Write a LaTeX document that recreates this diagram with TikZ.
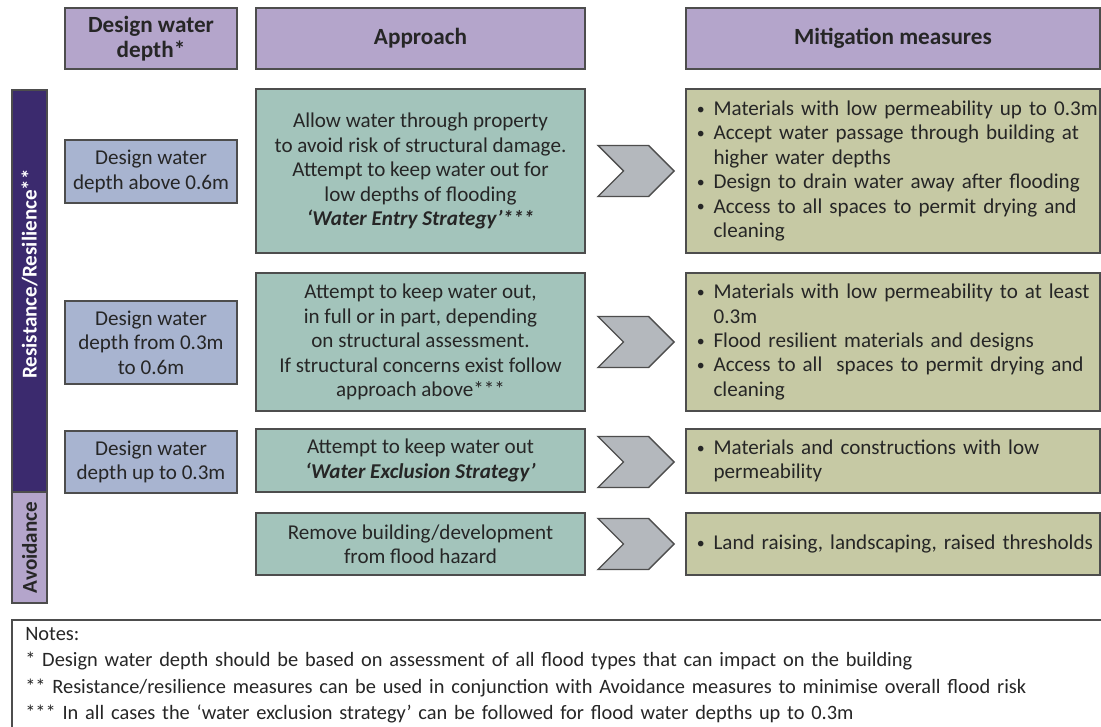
\documentclass[tikz,border=0pt]{standalone}
\usepackage{fontspec}
\setmainfont{Carlito}
\usetikzlibrary{positioning,shapes.symbols}
\definecolor{hdpurple}{HTML}{B4A5CB}
\definecolor{sidepurple}{HTML}{3B2A6E}
\definecolor{depblue}{HTML}{A8B4D0}
\definecolor{apgreen}{HTML}{A3C4BB}
\definecolor{mitolive}{HTML}{C6C9A4}
\definecolor{chevgrey}{HTML}{B4B8BD}
\definecolor{edgegrey}{HTML}{4D4D4D}
\definecolor{txt}{HTML}{262626}
\hyphenpenalty=10000
\tikzset{box/.style={draw=edgegrey, line width=1pt, inner sep=0pt, text=txt, align=center, font=\fontsize{15}{17.4}\selectfont}}
\tikzset{hd/.style={box, fill=hdpurple, minimum height=1.525cm, font=\fontsize{16.5}{17.4}\selectfont\bfseries}}
\tikzset{dep/.style={box, fill=depblue, minimum width=4.3cm}}
\tikzset{appr/.style={box, fill=apgreen, minimum width=8.225cm}}
\tikzset{miti/.style={box, fill=mitolive, minimum width=10.35cm, text width=10.35cm, align=left}}
\tikzset{chev/.style={draw=edgegrey, line width=1pt, fill=chevgrey, shape=signal, signal from=west, signal to=east, signal pointer angle=90, minimum width=1.9cm, minimum height=1.275cm, inner sep=0pt}}
\tikzset{side/.style={draw=edgegrey, line width=1pt, rotate=90, minimum height=0.875cm, inner sep=0pt, font=\fontsize{15}{15}\selectfont\bfseries}}
\newcommand{\bu}{\hspace*{0.27cm}\makebox[0.42cm][l]{\raisebox{0.12ex}{\scalebox{0.75}{\textbullet}}}}
\newcommand{\bi}{\hspace*{0.69cm}}

\begin{document}
\begin{tikzpicture}[x=0.025cm,y=-0.025cm]
  \useasboundingbox[fill=white] (0,0) rectangle (1101,727);
  % column heads
  \node[hd, minimum width=4.3cm] (hdepth) at (151,38.5) {Design water\\depth*};
  \node[hd, minimum width=8.225cm] (happr) at (420.5,38.5) {Approach};
  \node[hd, minimum width=10.35cm] (hmiti) at (893,38.5) {Mitigation measures};
  % side bar
  \node[side, fill=sidepurple, minimum width=10.05cm] (res) at (29.5,291) {};
  \node[rotate=90, text=white, inner sep=0pt, font=\fontsize{15}{15}\selectfont\bfseries] (reslbl) at (29.5,274) {Resistance/Resilience**};
  \node[side, fill=hdpurple, minimum width=2.775cm, text=txt] (avoid) at (29.5,547.5) {Avoidance};
  % design depths
  \node[dep, minimum height=1.575cm] (d1) at (151,171.5) {Design water\\depth above 0.6m};
  \node[dep, minimum height=2.075cm] (d2) at (151,342.5) {Design water\\depth from 0.3m\\to 0.6m};
  \node[dep, minimum height=1.55cm] (d3) at (151,462) {Design water\\depth up to 0.3m};
  % approach
  \node[appr, minimum height=4.1cm] (a1) at (420.5,171) {Allow water through property\\to avoid risk of structural damage.\\Attempt to keep water out for\\low depths of flooding\\\textbf{\textit{‘Water Entry Strategy’***}}};
  \node[appr, minimum height=3.45cm] (a2) at (420.5,342) {Attempt to keep water out,\\in full or in part, depending\\on structural assessment.\\If structural concerns exist follow\\approach above***};
  \node[appr, minimum height=1.575cm] (a3) at (420.5,460.5) {Attempt to keep water out\\\textbf{\textit{‘Water Exclusion Strategy’}}};
  \node[appr, minimum height=1.55cm] (a4) at (420.5,544) {Remove building/development\\from flood hazard};
  % chevrons
  \node[chev] (ch1) at (636,171) {};
  \node[chev] (ch2) at (636,342) {};
  \node[chev] (ch3) at (636,462) {};
  \node[chev] (ch4) at (636,544) {};
  % mitigation
  \node[miti, minimum height=4.1cm] (m1) at (893,171) {\bu Materials with low permeability up to 0.3m\\\bu Accept water passage through building at\\\bi higher water depths\\\bu Design to drain water away after flooding\\\bu Access to all spaces to permit drying and\\\bi cleaning};
  \node[miti, minimum height=3.45cm] (m2) at (893,342) {\bu Materials with low permeability to at least\\\bi 0.3m\\\bu Flood resilient materials and designs\\\bu Access to all\ \ spaces to permit drying and\\\bi cleaning};
  \node[miti, minimum height=1.6cm] (m3) at (893,461) {\bu Materials and constructions with low\\\bi permeability};
  \node[miti, minimum height=1.55cm] (m4) at (893,544) {\bu Land raising, landscaping, raised thresholds};
  % notes
  \node[anchor=north west, text width=27.3cm, inner xsep=0.325cm, inner ysep=0.17cm, align=left, text=txt, font=\fontsize{14.5}{18.9}\selectfont] (notes) at (12,620) {Notes:\\{}* Design water depth should be based on assessment of all flood types that can impact on the building\\{}** Resistance/resilience measures can be used in conjunction with Avoidance measures to minimise overall flood risk\\{}*** In all cases the ‘water exclusion strategy’ can be followed for flood water depths up to 0.3m};
  \draw[edgegrey, line width=1pt] (1110,620) -- (12,620) -- (12,740);
\end{tikzpicture}
\end{document}
